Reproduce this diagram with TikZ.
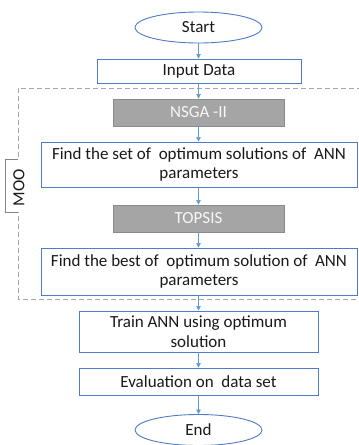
\documentclass[tikz,border=0pt]{standalone}
\usepackage{fontspec}
\setmainfont{Carlito}
\usetikzlibrary{arrows.meta,shapes.geometric}
\definecolor{boxblue}{HTML}{4F7BC8}
\definecolor{arrowblue}{HTML}{5B9BD5}
\definecolor{boxgray}{HTML}{A5A5A5}
\definecolor{grayborder}{HTML}{8A8A8A}
\definecolor{dashgray}{HTML}{A6A6A6}
\begin{document}
\begin{tikzpicture}[x=1pt,y=-1pt,
  txt/.style={font=\fontsize{17}{19.5}\selectfont, align=center, text=black!90},
  bluebox/.style={txt, draw=boxblue, line width=0.9pt, fill=white, inner sep=0pt, rectangle},
  graybox/.style={txt, draw=grayborder, line width=0.9pt, fill=boxgray, text=white!94!gray, inner sep=0pt, rectangle},
  term/.style={txt, ellipse, draw=boxblue, line width=0.9pt, fill=white, inner sep=0pt, minimum width=127pt, minimum height=31pt},
  arr/.style={draw=arrowblue, line width=0.6pt, -{Triangle[length=4.5pt,width=4.5pt]}},
  groupbox/.style={draw=dashgray, line width=0.9pt, dash pattern=on 5pt off 3pt},
  tab/.style={draw=dashgray!80!black, line width=0.8pt}
]
\useasboundingbox (0,0) rectangle (359,445);
\clip (0,0) rectangle (359,445);

% MOO group
\draw[groupbox] (18,88) rectangle (375,299);
\fill[white] (4,159) rectangle (21,212);
\draw[tab] (18,159) -- (5.5,159) -- (5.5,212) -- (18,212);
\node[txt, rotate=90, inner sep=0pt] (moo) at (19,187.5) {MOO};

% nodes
\node[term] (start) at (198.5,27.5) {Start};
\node[bluebox, minimum width=204pt, minimum height=24pt] (input) at (199,71) {Input Data};
\node[graybox, minimum width=171pt, minimum height=27pt] (nsga) at (198.5,112.5) {NSGA -II};
\node[bluebox, minimum width=316pt, minimum height=45pt] (set) at (199,164.5) {Find the set of\ \ optimum solutions of\ \ ANN\\parameters};
\node[graybox, minimum width=171pt, minimum height=27pt] (topsis) at (198.5,218.5) {TOPSIS};
\node[bluebox, minimum width=316pt, minimum height=47pt] (best) at (199,271.5) {Find the best of\ \ optimum solution of\ \ ANN\\parameters};
\node[bluebox, minimum width=239pt, minimum height=41pt] (train) at (198.5,331.5) {Train ANN using optimum\\solution};
\node[bluebox, minimum width=239pt, minimum height=27pt] (eval) at (198.5,381.5) {Evaluation on\ \ data set};
\node[term] (end) at (198.5,430) {End};

% connectors
\draw[arr] (start.south) -- (start.south |- input.north);
\draw[arr] (input.south -| nsga.north) -- (nsga.north);
\draw[arr] (nsga.south) -- (nsga.south |- set.north);
\draw[arr] (set.south -| topsis.north) -- (topsis.north);
\draw[arr] (topsis.south) -- (topsis.south |- best.north);
\draw[arr] (best.south -| train.north) -- (train.north);
\draw[arr] (train.south) -- (eval.north);
\draw[arr] (eval.south) -- (end.north);
\end{tikzpicture}
\end{document}
